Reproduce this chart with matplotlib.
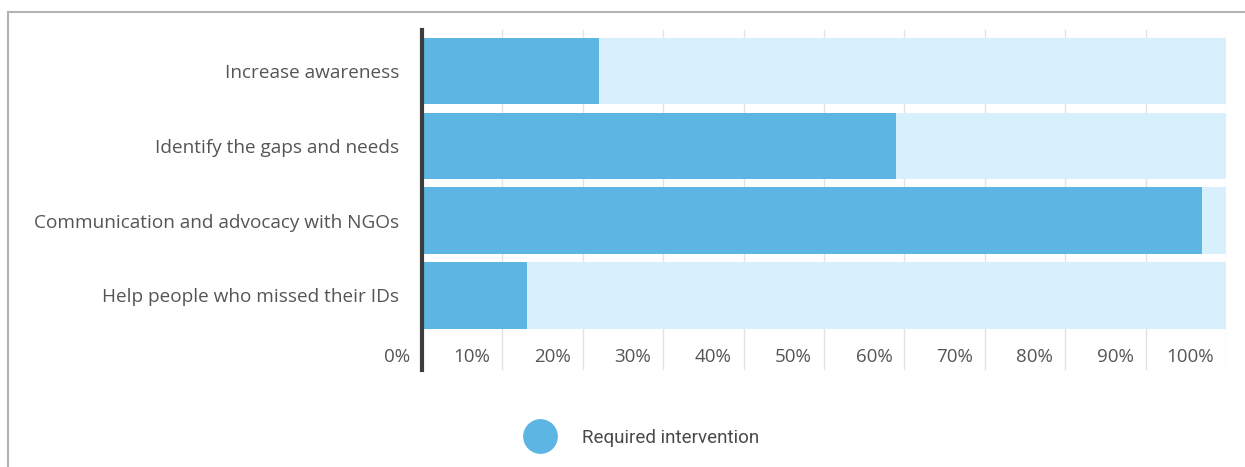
import matplotlib
matplotlib.use("Agg")
import matplotlib.pyplot as plt
import matplotlib.transforms as mtransforms
from matplotlib.lines import Line2D

plt.rcParams["font.family"] = ["Open Sans", "DejaVu Sans"]

categories = [
    "Increase awareness",
    "Identify the gaps and needs",
    "Communication and advocacy with NGOs",
    "Help people who missed their IDs",
]
values = [22, 59, 97, 13]
tick_values = [0, 10, 20, 30, 40, 50, 60, 70, 80, 90, 100]
tick_labels = ["0%", "10%", "20%", "30%", "40%", "50%", "60%", "70%", "80%", "90%", "100%"]
series_name = "Required intervention"

dark_blue = "#5db5e3"
light_blue = "#d8f0fb"
text_grey = "#555555"

W, H = 1245, 467
fig = plt.figure(figsize=(W / 100, H / 100), dpi=100)

# axes placed in pixel terms
left, right, top, bottom = 422, 1226, 30, 370
ax = fig.add_axes([left / W, 1 - bottom / H, (right - left) / W, (bottom - top) / H])

y = list(range(len(categories)))

# faint vertical grid
for t in tick_values[1:]:
    ax.axvline(t, color="#e2e2e2", lw=1, zorder=0)

# full-width background bars, then values
ax.barh(y, [100] * len(y), height=0.89, color=light_blue, zorder=1)
ax.barh(y, values, height=0.89, color=dark_blue, zorder=2)

ax.set_xlim(0, 100)
ax.set_ylim(4.0, -0.55)

ax.set_yticks(y)
ax.set_yticklabels(categories, fontsize=13.7, color=text_grey)
ax.tick_params(axis="y", length=0, pad=16.5)
ax.set_xticks([])

for s in ["top", "right", "bottom"]:
    ax.spines[s].set_visible(False)
ax.spines["left"].set_color("#3d3d3d")
ax.spines["left"].set_linewidth(3)
ax.spines["left"].set_zorder(3)

# percent labels sit just left of each grid line
trans = mtransforms.blended_transform_factory(ax.transData, ax.transAxes)
trans = mtransforms.offset_copy(trans, fig=fig, x=-12, y=0, units="dots")
for t, lab in zip(tick_values, tick_labels):
    ax.text(t, (bottom - 357) / (bottom - top), lab, transform=trans,
            ha="right", va="center", fontsize=13.5, color=text_grey)

# frame lines on left and top
fig.add_artist(Line2D([8 / W, 8 / W], [0, 1 - 12 / H], color="#b3b3b3", lw=1.5))
fig.add_artist(Line2D([8 / W, 1], [1 - 12 / H, 1 - 12 / H], color="#b3b3b3", lw=1.5))

handle = Line2D([], [], marker="o", ls="", ms=24, color=dark_blue)
fig.legend(handles=[handle], labels=[series_name], loc="center left",
           bbox_to_anchor=(509 / W, 1 - 438 / H), frameon=False,
           prop={"family": ["Roboto", "DejaVu Sans"], "size": 13.5},
           labelcolor="#4a4a4a", handletextpad=1.5, handlelength=1.5)

fig.savefig("out.png", dpi=100)
plt.close(fig)
